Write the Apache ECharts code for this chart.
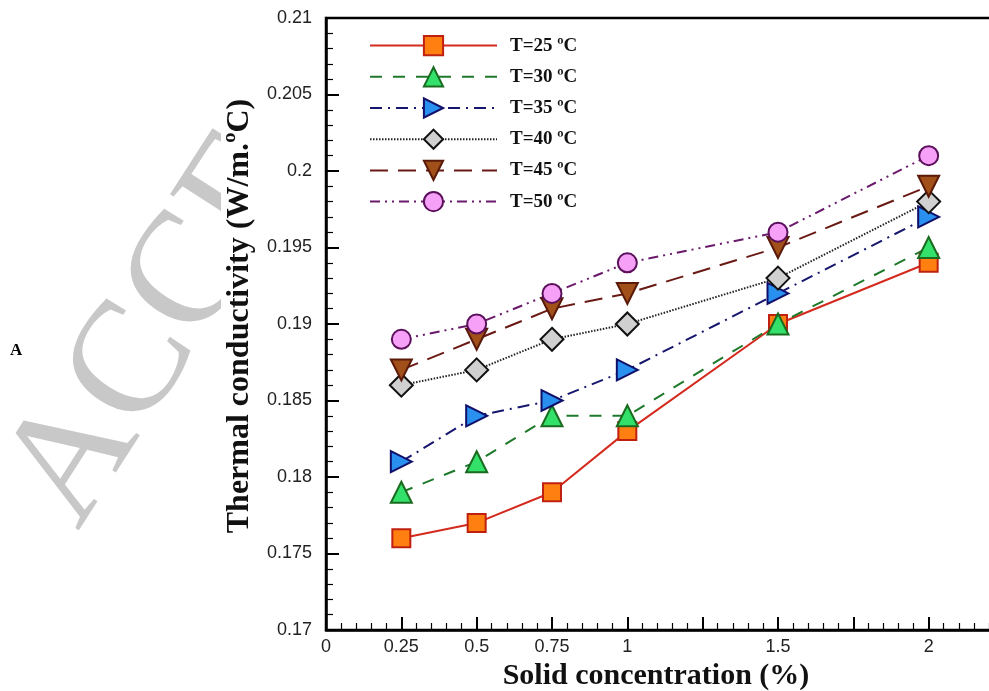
<!DOCTYPE html>
<html>
<head>
<meta charset="utf-8">
<script src="https://cdn.jsdelivr.net/npm/echarts@6/dist/echarts.min.js"></script>
<style>
  html, body { margin: 0; padding: 0; background: #fff; }
  #chart { width: 989px; height: 691px; }
</style>
</head>
<body>
<div id="chart"></div>
<script>
// solid concentration (%)
var conc = [0.25, 0.5, 0.75, 1, 1.5, 2];

// thermal conductivity (W/m.ºC) at each temperature
var t25 = [0.176, 0.177, 0.179, 0.183, 0.190, 0.194];
var t30 = [0.179, 0.181, 0.184, 0.184, 0.190, 0.195];
var t35 = [0.181, 0.184, 0.185, 0.187, 0.192, 0.197];
var t40 = [0.186, 0.187, 0.189, 0.190, 0.193, 0.198];
var t45 = [0.187, 0.189, 0.191, 0.192, 0.195, 0.199];
var t50 = [0.189, 0.190, 0.192, 0.194, 0.196, 0.201];

var names = ['T=25 ºC', 'T=30 ºC', 'T=35 ºC', 'T=40 ºC', 'T=45 ºC', 'T=50 ºC'];
var xTickLabels = [0, 0.25, 0.5, 0.75, 1, 1.5, 2];

var chart = echarts.init(document.getElementById('chart'));

function pts(arr) {
    return conc.map(function (x, i) { return [x, arr[i]]; });
}

function mk(name, arr, sym, rot, size, lineColor, dash, fill, border) {
    return {
        name: name,
        type: 'line',
        data: pts(arr),
        symbol: sym,
        symbolRotate: rot,
        symbolSize: size,
        showAllSymbol: true,
        lineStyle: { color: lineColor, width: 2, type: dash },
        itemStyle: { color: fill, borderColor: border, borderWidth: 2 },
        emphasis: { disabled: true },
        z: 3
    };
}

var option = {
    animation: false,
    backgroundColor: '#fff',
    graphic: [
        {
            type: 'text',
            x: 110, y: 552,
            rotation: 1.0,
            z: -10,
            style: {
                text: 'ACCEPTED MANUSCRIPT',
                font: 'normal 160px "Liberation Serif"',
                fill: '#c8c8c8',
                textAlign: 'left',
                textVerticalAlign: 'bottom'
            }
        },
        {
            // white sheet behind the plot hides the rest of the watermark
            type: 'rect',
            z: -5,
            shape: { x: 221, y: 0, width: 800, height: 691 },
            style: { fill: '#fff' }
        },
        {
            type: 'text',
            left: 10, top: 342,
            style: {
                text: 'A',
                font: 'bold 17px "Liberation Serif"',
                fill: '#000'
            }
        }
    ],
    grid: {
        left: 326, top: 18, width: 678, height: 612,
        outerBoundsMode: 'none',
        show: true,
        backgroundColor: '#fff',
        borderColor: '#000',
        borderWidth: 2.5
    },
    legend: {
        data: names,
        orient: 'vertical',
        left: 369, top: 35,
        padding: 0,
        itemWidth: 127,
        itemHeight: 24,
        itemGap: 10,
        selectedMode: false,
        textStyle: {
            fontFamily: 'Liberation Serif',
            fontWeight: 'bold',
            fontSize: 19,
            color: '#111',
            padding: [0, 0, 0, 8]
        }
    },
    xAxis: {
        type: 'value',
        min: 0, max: 2.25, interval: 0.25,
        name: 'Solid concentration (%)',
        nameLocation: 'middle',
        nameGap: 24,
        nameTextStyle: {
            fontFamily: 'Liberation Serif', fontWeight: 'bold', fontSize: 30, color: '#111',
            padding: [0, 18, 0, 0]
        },
        axisLine: { lineStyle: { color: '#000', width: 2.5 } },
        axisTick: { inside: true, length: 13, lineStyle: { color: '#000', width: 2 } },
        minorTick: { show: true, splitNumber: 5, length: 7, lineStyle: { color: '#000', width: 1.2 } },
        splitLine: { show: false },
        axisLabel: {
            margin: 8,
            fontFamily: 'Liberation Sans',
            fontSize: 18,
            color: '#222',
            formatter: function (v) {
                for (var i = 0; i < xTickLabels.length; i++) {
                    if (Math.abs(xTickLabels[i] - v) < 1e-9) return String(xTickLabels[i]);
                }
                return '';
            }
        }
    },
    yAxis: {
        type: 'value',
        min: 0.17, max: 0.21, interval: 0.005,
        name: 'Thermal conductivity (W/m.ºC)',
        nameLocation: 'middle',
        nameGap: 68,
        nameRotate: 90,
        nameTextStyle: {
            fontFamily: 'Liberation Serif', fontWeight: 'bold', fontSize: 32, color: '#111',
            padding: [0, 0, 0, 16]
        },
        axisLine: { lineStyle: { color: '#000', width: 2.5 } },
        axisTick: { inside: true, length: 13, lineStyle: { color: '#000', width: 2 } },
        minorTick: { show: true, splitNumber: 5, length: 7, lineStyle: { color: '#000', width: 1.2 } },
        splitLine: { show: false },
        axisLabel: {
            margin: 14,
            fontFamily: 'Liberation Sans',
            fontSize: 18,
            color: '#222',
            formatter: function (v) { return String(parseFloat(v.toFixed(3))); }
        }
    },
    series: [
        mk(names[0], t25, 'rect', 0, 18, '#d42a1e', 'solid', '#ff8010', '#c02010'),
        mk(names[1], t30, 'triangle', 0, 21, '#1e7a2a', [12, 11], '#33e06a', '#1a6a20'),
        mk(names[2], t35, 'triangle', -90, 21, '#16166e', [12, 6, 2, 6], '#2a90f0', '#10106a'),
        mk(names[3], t40, 'diamond', 0, 23, '#222', [1.5, 1.5], '#d0d0d0', '#111'),
        mk(names[4], t45, 'triangle', 180, 21, '#6a1a14', [18, 10], '#a2501a', '#5a1a0a'),
        mk(names[5], t50, 'circle', 0, 19, '#6a1a6a', [10, 5, 2, 5, 2, 5], '#f7a0f7', '#5a105a')
    ]
};

chart.setOption(option);
</script>
</body>
</html>
